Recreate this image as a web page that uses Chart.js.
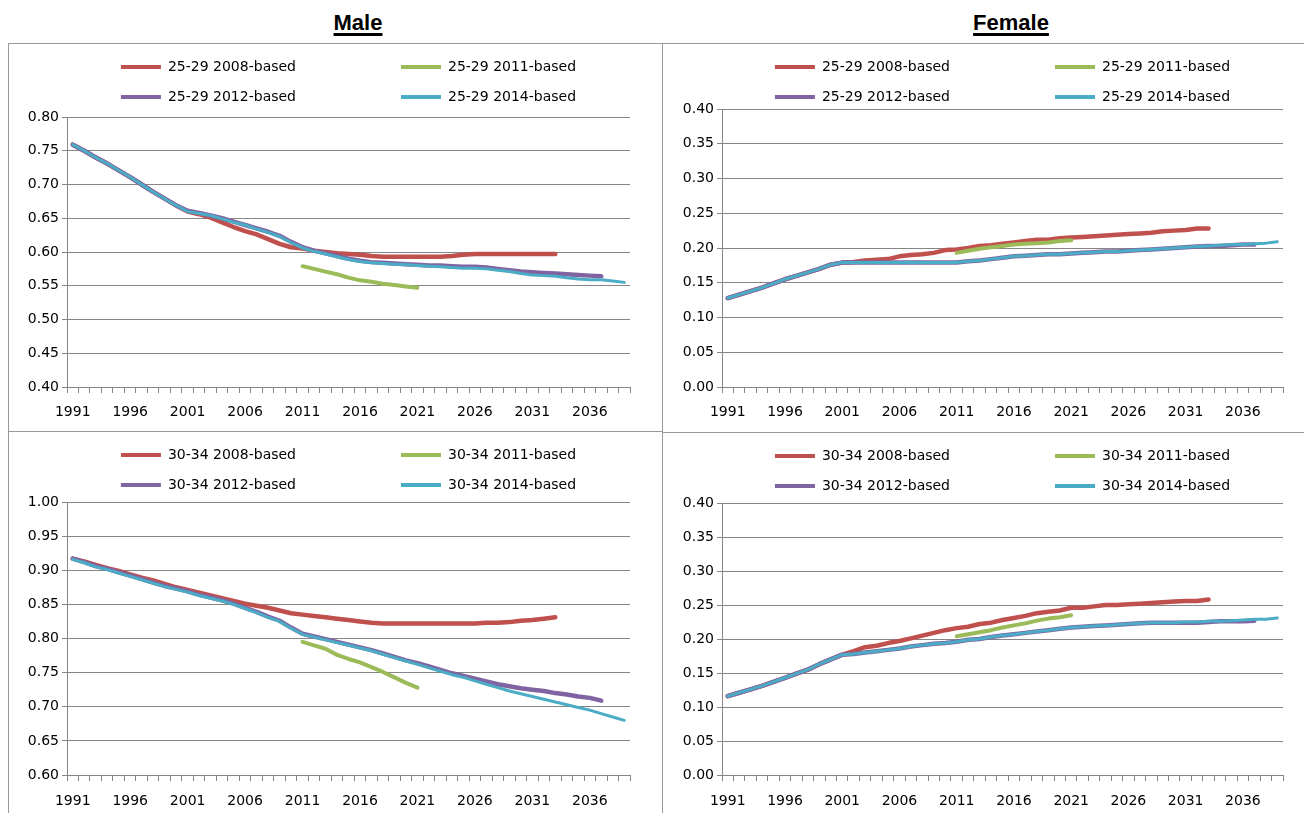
<!DOCTYPE html>
<html>
<head>
<meta charset="utf-8">
<script src="https://cdn.jsdelivr.net/npm/chart.js@4.4.1/dist/chart.umd.min.js"></script>
<style>
  html, body { margin: 0; padding: 0; background: #fff; overflow: hidden; width: 1304px; height: 813px; }
  .head { position: absolute; top: 10px; font: bold 22px "Liberation Sans", Arial, sans-serif; text-decoration: underline; text-decoration-thickness: 3px; text-underline-offset: 3px; color: #000; transform: translateX(-50%); white-space: nowrap; }
  .panel { position: absolute; box-sizing: border-box; border: 1px solid #999; background: #fff; }
  .panel canvas { display: block; }
</style>
</head>
<body>
<div class="head" style="left:358px">Male</div>
<div class="head" style="left:1011px">Female</div>

<div class="panel" style="left:8px;top:43px;width:655px;height:389px"><canvas id="maleYoung" width="653" height="387"></canvas></div>
<div class="panel" style="left:662px;top:43px;width:700px;height:390px"><canvas id="femaleYoung" width="698" height="388"></canvas></div>
<div class="panel" style="left:8px;top:431px;width:655px;height:400px"><canvas id="maleOld" width="653" height="398"></canvas></div>
<div class="panel" style="left:662px;top:432px;width:700px;height:400px"><canvas id="femaleOld" width="698" height="398"></canvas></div>

<script>
/********** CATEGORIES **********/
const years = [1991, 1992, 1993, 1994, 1995, 1996, 1997, 1998, 1999, 2000,
  2001, 2002, 2003, 2004, 2005, 2006, 2007, 2008, 2009, 2010,
  2011, 2012, 2013, 2014, 2015, 2016, 2017, 2018, 2019, 2020,
  2021, 2022, 2023, 2024, 2025, 2026, 2027, 2028, 2029, 2030,
  2031, 2032, 2033, 2034, 2035, 2036, 2037, 2038, 2039];

/********** MALE 25-29 **********/
// 2008-based from 1991, 2011-based from 2011, 2012-based from 1991, 2014-based from 1991
const male25_2008 = [.759, .750, .740, .731, .721, .711, .700, .689, .679, .669,
  .660, .656, .651, .644, .637, .631, .626, .619, .612, .607,
  .605, .602, .600, .598, .597, .596, .594, .593, .593, .593,
  .593, .593, .593, .594, .596, .597, .597, .597, .597, .597,
  .597, .597, .597];
const male25_2011 = [.579, .575, .571, .567, .562, .558, .556, .553, .551, .549, .547];
const male25_2012 = [.759, .750, .740, .731, .721, .711, .700, .689, .679, .669,
  .661, .658, .654, .650, .645, .640, .635, .630, .624, .615,
  .607, .602, .598, .594, .590, .587, .585, .584, .583, .582,
  .581, .580, .580, .579, .578, .578, .577, .575, .573, .571,
  .570, .569, .568, .567, .566, .565, .564];
const male25_2014 = [.759, .750, .740, .731, .721, .711, .700, .689, .679, .669,
  .660, .657, .654, .649, .644, .640, .634, .629, .623, .614,
  .606, .601, .597, .593, .589, .586, .584, .583, .582, .581,
  .580, .579, .578, .577, .576, .576, .575, .573, .571, .568,
  .566, .565, .564, .562, .560, .559, .559, .557, .555];

/********** FEMALE 25-29 **********/
const female25_2008 = [.128, .133, .138, .143, .149, .155, .160, .165, .170, .176,
  .179, .180, .182, .183, .184, .188, .190, .191, .193, .197,
  .198, .200, .203, .204, .206, .208, .210, .212, .212, .214,
  .215, .216, .217, .218, .219, .220, .221, .222, .224, .225,
  .226, .228, .228];
const female25_2011 = [.193, .196, .199, .201, .203, .205, .206, .207, .208, .210, .211];
const female25_2012 = [.128, .133, .138, .143, .149, .155, .160, .165, .170, .176,
  .179, .179, .179, .179, .179, .179, .179, .179, .179, .179,
  .179, .181, .182, .184, .186, .188, .189, .190, .191, .191,
  .192, .193, .194, .195, .195, .196, .197, .198, .199, .200,
  .201, .202, .203, .203, .204, .205, .205];
const female25_2014 = [.128, .133, .138, .143, .149, .155, .160, .165, .170, .176,
  .179, .179, .179, .179, .179, .179, .179, .179, .179, .179,
  .179, .181, .182, .184, .186, .188, .189, .190, .191, .191,
  .192, .193, .194, .195, .195, .196, .197, .198, .199, .200,
  .201, .202, .203, .204, .205, .205, .206, .207, .209];

/********** MALE 30-34 **********/
const male30_2008 = [.917, .913, .908, .903, .899, .894, .889, .885, .880, .875,
  .871, .867, .863, .859, .855, .851, .848, .845, .841, .837,
  .835, .833, .831, .829, .827, .825, .823, .822, .822, .822,
  .822, .822, .822, .822, .822, .822, .823, .823, .824, .826,
  .827, .829, .831];
const male30_2011 = [.795, .790, .785, .776, .770, .765, .758, .751, .743, .735, .728];
const male30_2012 = [.917, .912, .906, .902, .897, .892, .887, .882, .877, .873,
  .869, .864, .860, .856, .851, .845, .839, .832, .826, .816,
  .807, .803, .799, .795, .791, .787, .783, .778, .773, .768,
  .764, .759, .754, .749, .745, .741, .737, .733, .730, .727,
  .725, .723, .720, .718, .715, .713, .709];
const male30_2014 = [.916, .911, .905, .901, .896, .891, .886, .881, .876, .872,
  .868, .863, .859, .855, .850, .844, .838, .831, .825, .815,
  .806, .802, .798, .794, .790, .786, .782, .777, .772, .767,
  .762, .757, .752, .747, .743, .738, .733, .728, .723, .719,
  .715, .711, .707, .703, .699, .695, .690, .685, .680];

/********** FEMALE 30-34 **********/
const female30_2008 = [.116, .121, .126, .131, .137, .143, .149, .155, .163, .170,
  .177, .182, .188, .190, .194, .197, .201, .205, .209, .213,
  .216, .218, .222, .224, .228, .231, .234, .238, .240, .242,
  .246, .246, .248, .250, .250, .251, .252, .253, .254, .255,
  .256, .256, .258];
const female30_2011 = [.204, .207, .210, .213, .217, .220, .223, .227, .230, .232, .235];
const female30_2012 = [.116, .121, .126, .131, .137, .143, .149, .155, .163, .170,
  .177, .178, .180, .182, .184, .186, .189, .191, .193, .194,
  .196, .199, .200, .203, .205, .207, .209, .211, .213, .215,
  .217, .218, .219, .220, .221, .222, .223, .224, .224, .224,
  .224, .224, .225, .226, .226, .226, .227];
const female30_2014 = [.116, .121, .126, .131, .137, .143, .149, .155, .163, .170,
  .177, .178, .180, .182, .184, .186, .189, .191, .193, .194,
  .196, .199, .200, .203, .205, .207, .209, .211, .213, .215,
  .217, .218, .219, .220, .221, .222, .223, .224, .224, .224,
  .225, .225, .226, .226, .227, .228, .229, .229, .231];

/********** STYLE **********/
const COLORS = { b2008: '#C0504D', b2011: '#9BBB59', b2012: '#8064A2', b2014: '#4BACC6' };
const GRID = '#868686';
const FONT = { family: '"DejaVu Sans", Verdana, sans-serif', size: 14 };
const LEGEND_PAD = ' '.repeat(20);

// put a series on the year axis, starting at its first year
function fromYear(start, values) {
  const out = years.map(() => null);
  values.forEach((v, i) => { out[years.indexOf(start) + i] = v; });
  return out;
}

// force the legend box to a given height so the plot area lands where it should
const legendHeight = {
  id: 'legendHeight',
  beforeLayout(chart, args, opts) {
    const legend = chart.legend;
    if (legend && !legend._fixedFit) {
      const fit = legend.fit;
      legend.fit = function () { fit.call(this); this.height = opts.height; };
      legend._fixedFit = true;
    }
  }
};

function makeChart(id, age, series, yMin, yMax, box) {
  const ctx = document.getElementById(id).getContext('2d');
  const sets = [
    { label: age + ' 2008-based', data: fromYear(1991, series[0]), color: COLORS.b2008, width: 4.5, order: 4 },
    { label: age + ' 2011-based', data: fromYear(2011, series[1]), color: COLORS.b2011, width: 4, order: 3 },
    { label: age + ' 2012-based', data: fromYear(1991, series[2]), color: COLORS.b2012, width: 4.5, order: 2 },
    { label: age + ' 2014-based', data: fromYear(1991, series[3]), color: COLORS.b2014, width: 3, order: 1 }
  ];

  return new Chart(ctx, {
    type: 'line',
    data: {
      labels: years,
      datasets: sets.map(s => ({
        label: s.label,
        data: s.data,
        borderColor: s.color,
        backgroundColor: s.color,
        borderWidth: s.width,
        order: s.order,
        pointRadius: 0,
        tension: 0,
        spanGaps: false,
        borderCapStyle: 'round',
        borderJoinStyle: 'round'
      }))
    },
    plugins: [legendHeight],
    options: {
      responsive: false,
      animation: false,
      layout: { padding: { left: 0, right: box.padRight, top: 0, bottom: 0 } },
      plugins: {
        legendHeight: { height: box.legendH },
        tooltip: { enabled: false },
        legend: {
          position: 'top',
          fullSize: false,
          labels: {
            color: '#000',
            font: FONT,
            boxWidth: 40,
            boxHeight: 4,
            padding: 16,
            generateLabels: chart => chart.data.datasets.map((ds, i) => ({
              text: ds.label + (i % 2 === 0 ? LEGEND_PAD : ''),
              fillStyle: ds.borderColor,
              strokeStyle: ds.borderColor,
              lineWidth: 0,
              hidden: false,
              datasetIndex: i
            }))
          }
        }
      },
      scales: {
        x: {
          type: 'category',
          offset: true,
          grid: { offset: true, drawOnChartArea: false, drawTicks: true, tickLength: 6, color: GRID },
          border: { color: GRID, width: 1 },
          ticks: {
            autoSkip: false,
            maxRotation: 0,
            padding: box.xPad,
            color: '#000',
            font: FONT,
            callback: (v, i) => ((years[i] - 1991) % 5 === 0 ? String(years[i]) : '')
          },
          afterFit: s => { s.height = box.xH; }
        },
        y: {
          min: yMin,
          max: yMax,
          grid: { color: GRID, tickLength: 5 },
          border: { color: GRID, width: 1 },
          ticks: {
            stepSize: 0.05,
            padding: 3,
            color: '#000',
            font: FONT,
            callback: v => v.toFixed(2)
          },
          afterFit: s => { s.width = box.yW; }
        }
      }
    }
  });
}

makeChart('maleYoung', '25-29', [male25_2008, male25_2011, male25_2012, male25_2014], 0.40, 0.80,
  { legendH: 73, xH: 44, yW: 58, padRight: 32, xPad: 11 });
makeChart('femaleYoung', '25-29', [female25_2008, female25_2011, female25_2012, female25_2014], 0, 0.40,
  { legendH: 65, xH: 45, yW: 59, padRight: 78, xPad: 11 });
makeChart('maleOld', '30-34', [male30_2008, male30_2011, male30_2012, male30_2014], 0.60, 1.00,
  { legendH: 70, xH: 55, yW: 58, padRight: 32, xPad: 12 });
makeChart('femaleOld', '30-34', [female30_2008, female30_2011, female30_2012, female30_2014], 0, 0.40,
  { legendH: 70, xH: 56, yW: 59, padRight: 78, xPad: 12 });
</script>
</body>
</html>
